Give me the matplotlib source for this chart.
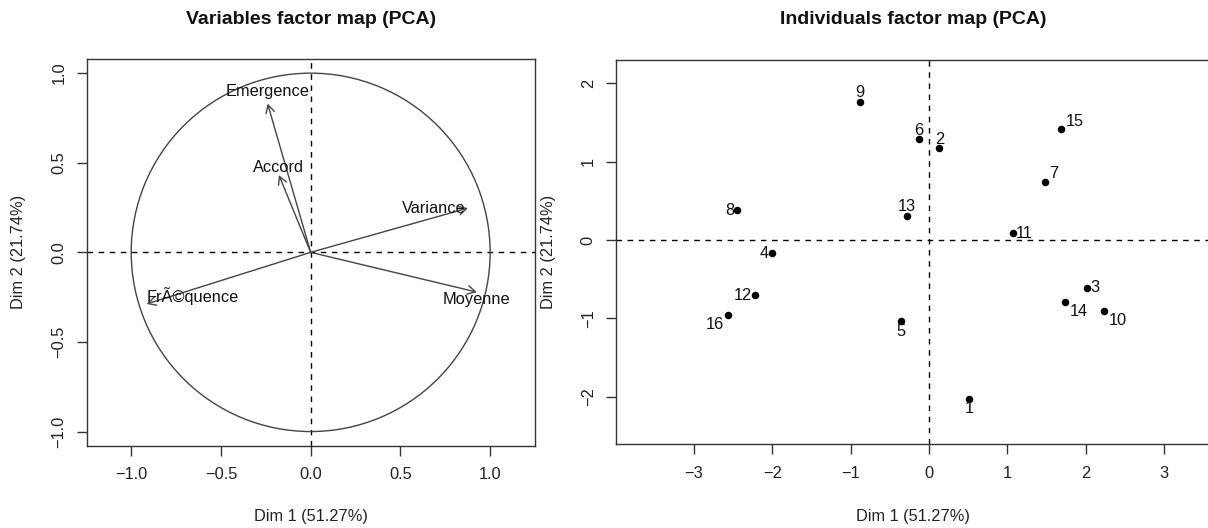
import matplotlib
matplotlib.use("Agg")  # headless
import matplotlib.pyplot as plt
from matplotlib.patches import Circle

plt.rcParams["font.family"] = ["Liberation Sans", "DejaVu Sans"]

# ---------- data ----------
var_names = ["Emergence", "Accord", "Variance", "Moyenne", "FrÃ©quence"]
var_dim1 = [-0.240, -0.177, 0.876, 0.926, -0.914]
var_dim2 = [0.830, 0.431, 0.247, -0.222, -0.288]

ind_names = [str(i) for i in range(1, 17)]
ind_dim1 = [0.512, 0.132, 2.021, -2.005, -0.359, -0.132, 1.483, -2.449,
            -0.876, 2.232, 1.071, -2.222, -0.280, 1.736, 1.689, -2.565]
ind_dim2 = [-2.028, 1.171, -0.609, -0.170, -1.039, 1.286, 0.741, 0.383,
            1.768, -0.912, 0.089, -0.707, 0.311, -0.792, 1.414, -0.958]

x_label = "Dim 1 (51.27%)"
y_label = "Dim 2 (21.74%)"

# ---------- label placement (style only) ----------
# offset in pixels from the point, then alignment
PLACE = {
    "above": (0, 9, "center", "center"),
    "above12": (0, 12, "center", "center"),
    "above8": (0, 8, "center", "center"),
    "below": (0, -10, "center", "center"),
    "below7": (0, -7, "center", "center"),
    "left": (-3, 0, "right", "center"),
    "left2": (-2, 0, "right", "center"),
    "right": (3, 0, "left", "center"),
    "upright": (4, 8, "left", "center"),
    "upright0": (0, 8, "left", "center"),
    "downright": (5, -9, "left", "center"),
    "downleft": (-4, -9, "right", "center"),
}
var_place = ["above12", "above8", "left2", "below7", "upright0"]
ind_place = ["below", "above", "right", "left", "below", "above", "upright",
             "left", "above", "downright", "right", "left", "above",
             "downright", "upright", "downleft"]

W, H = 1208, 528
FS = 11.8
EDGE = "#333333"


def px_box(l, r, t, b):
    return [l / W, 1 - b / H, (r - l) / W, (b - t) / H]


def style_axes(ax):
    for s in ax.spines.values():
        s.set_color(EDGE)
        s.set_linewidth(1.0)
    ax.tick_params(length=7.5, width=1.0, color=EDGE, labelsize=FS,
                   labelcolor="#222222")
    ax.tick_params(axis="x", pad=8)
    ax.tick_params(axis="y", pad=7, labelrotation=90)
    for lbl in ax.get_yticklabels():
        lbl.set_va("center")
    ax.axhline(0, color="black", lw=1.0, ls=(0, (4, 4)), zorder=1)
    ax.axvline(0, color="black", lw=1.0, ls=(0, (4, 4)), zorder=1)


def put_label(ax, x, y, text, place):
    dx, dy, ha, va = PLACE[place]
    ax.annotate(text, (x, y), xytext=(dx * 0.72, dy * 0.72),
                textcoords="offset points", ha=ha, va=va, fontsize=FS,
                color="#111111")


fig = plt.figure(figsize=(W / 100, H / 100), dpi=100)

# ---------- Variables factor map ----------
ax1 = fig.add_axes(px_box(86.7, 535, 59, 445.7))
ax1.set_xlim(-1.248, 1.25)
ax1.set_ylim(-1.079, 1.079)
ax1.set_xticks([-1.0, -0.5, 0.0, 0.5, 1.0])
ax1.set_yticks([-1.0, -0.5, 0.0, 0.5, 1.0])
ax1.set_xticklabels([f"{v:.1f}".replace("-", "\u2212") for v in ax1.get_xticks()])
ax1.set_yticklabels([f"{v:.1f}".replace("-", "\u2212") for v in ax1.get_yticks()])
style_axes(ax1)
ax1.add_patch(Circle((0, 0), 1, fill=False, ec="#444444", lw=1.0))
for name, x, y, p in zip(var_names, var_dim1, var_dim2, var_place):
    ax1.annotate("", xy=(x, y), xytext=(0, 0),
                 arrowprops=dict(arrowstyle="->, head_length=0.4, head_width=0.22",
                                 color="#444444", lw=1.0, shrinkA=0, shrinkB=0,
                                 mutation_scale=14))
    put_label(ax1, x, y, name, p)
ax1.set_xlabel(x_label, fontsize=FS, color="#222222")
ax1.set_ylabel(y_label, fontsize=FS, color="#222222")
ax1.xaxis.set_label_coords(0.5, -0.184)
ax1.xaxis.label.set_va("center")
ax1.yaxis.set_label_coords(-0.153, 0.5)
ax1.yaxis.label.set_va("center")

# ---------- Individuals factor map ----------
ax2 = fig.add_axes(px_box(616, 1212, 60, 444.3))
ax2.set_xlim(-3.992, 3.61)
ax2.set_ylim(-2.609, 2.299)
ax2.set_xticks(range(-3, 4))
ax2.set_yticks(range(-2, 3))
style_axes(ax2)
ax2.plot(ind_dim1, ind_dim2, "o", ms=4.4, color="black", zorder=3)
for name, x, y, p in zip(ind_names, ind_dim1, ind_dim2, ind_place):
    put_label(ax2, x, y, name, p)
ax2.set_xlabel(x_label, fontsize=FS, color="#222222")
ax2.set_ylabel(y_label, fontsize=FS, color="#222222")
ax2.xaxis.set_label_coords((913 - 616) / (1212 - 616), -0.188)
ax2.xaxis.label.set_va("center")
ax2.yaxis.set_label_coords((548 - 616) / (1212 - 616), 0.5)
ax2.yaxis.label.set_va("center")

# ---------- titles ----------
fig.text(311 / W, 1 - 20 / H, "Variables factor map (PCA)", ha="center",
         va="center", fontsize=14, fontweight="bold", color="#111111")
fig.text(913 / W, 1 - 20 / H, "Individuals factor map (PCA)", ha="center",
         va="center", fontsize=14, fontweight="bold", color="#111111")

fig.savefig("out.png", dpi=100)
plt.close(fig)
